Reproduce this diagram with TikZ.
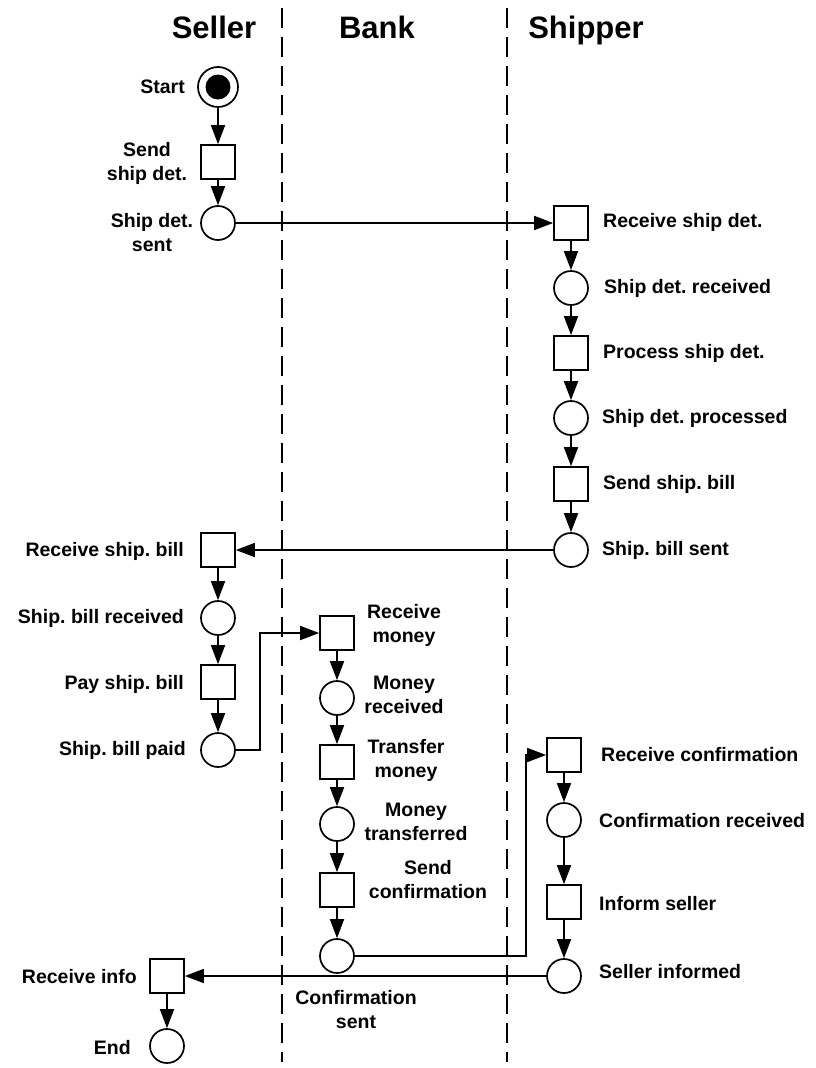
\documentclass[tikz,border=0pt]{standalone}
\usepackage{fontspec}
\setmainfont{Liberation Sans}
\usetikzlibrary{arrows.meta}
\frenchspacing
\begin{document}
\begin{tikzpicture}[x=1pt,y=-1pt,
  place/.style={circle,draw,line width=1.7pt,minimum size=34pt,inner sep=0pt},
  trans/.style={rectangle,draw,line width=1.7pt,minimum size=34pt,inner sep=0pt},
  flow/.style={-{Triangle[length=19pt,width=14pt]},line width=1.7pt},
  lane/.style={line width=2.2pt,dash pattern=on 20pt off 9pt},
  lbl/.style={font=\bfseries\fontsize{19.5}{24}\selectfont\frenchspacing,align=center,inner sep=0pt},
  head/.style={font=\bfseries\fontsize{31}{36}\selectfont,inner sep=0pt,anchor=base}]
\fill[white] (0,0) rectangle (815,1068);
\useasboundingbox (0,0) rectangle (815,1068);

% lanes
\coordinate (l1t) at (282,8);
\coordinate (l1b) at (282,1062);
\coordinate (l2t) at (507,8);
\coordinate (l2b) at (507,1062);
\draw[lane] (l1t) -- (l1b);
\draw[lane] (l2t) -- (l2b);

% headers
\node[head] (hseller) at (214,38) {Seller};
\node[head] (hbank) at (377,38) {Bank};
\node[head] (hshipper) at (586,38) {Shipper};

% seller upper
\node[place,minimum size=40pt] (start) at (218,87) {};
\node[circle,fill=black,minimum size=25pt,inner sep=0pt] (startdot) at (start) {};
\node[trans] (sendsd) at (218,162) {};
\node[place] (sdsent) at (218,223) {};

% shipper upper
\node[trans] (recvsd) at (571,223) {};
\node[place] (sdrecv) at (571,288) {};
\node[trans] (procsd) at (571,353) {};
\node[place] (sdproc) at (571,418) {};
\node[trans] (sendbill) at (571,484) {};
\node[place] (billsent) at (571,550) {};

% seller middle
\node[trans] (recvbill) at (218,550) {};
\node[place] (billrecv) at (218,618) {};
\node[trans] (paybill) at (218,682) {};
\node[place] (billpaid) at (218,750) {};

% bank
\node[trans] (recvmoney) at (337,633) {};
\node[place] (moneyrecv) at (337,698) {};
\node[trans] (transfer) at (337,762) {};
\node[place] (moneytrans) at (337,824) {};
\node[trans] (sendconf) at (337,890) {};
\node[place] (confsent) at (337,956) {};

% shipper lower
\node[trans] (recvconf) at (564,755) {};
\node[place] (confrecv) at (564,820) {};
\node[trans] (inform) at (564,902) {};
\node[place] (sellerinf) at (564,976) {};

% seller lower
\node[trans] (recvinfo) at (167,976) {};
\node[place] (endp) at (167,1046) {};

% labels
\node[lbl,anchor=east] (tstart) at (185,87) {Start};
\node[lbl] (tsendsd) at (147,163) {Send\\ship det.};
\node[lbl] (tsdsent) at (152,233) {Ship det.\\sent};

\node[lbl,anchor=west] (trecvsd) at (603,222) {Receive ship det.};
\node[lbl,anchor=west] (tsdrecv) at (604,288) {Ship det. received};
\node[lbl,anchor=west] (tprocsd) at (603,353) {Process ship det.};
\node[lbl,anchor=west] (tsdproc) at (602,418) {Ship det. processed};
\node[lbl,anchor=west] (tsendbill) at (603,484) {Send ship. bill};
\node[lbl,anchor=west] (tbillsent) at (602,550) {Ship. bill sent};

\node[lbl,anchor=east] (trecvbill) at (184,551) {Receive ship. bill};
\node[lbl,anchor=east] (tbillrecv) at (184,618) {Ship. bill received};
\node[lbl,anchor=east] (tpaybill) at (184,684) {Pay ship. bill};
\node[lbl,anchor=east] (tbillpaid) at (186,750) {Ship. bill paid};

\node[lbl] (trecvmoney) at (404,625) {Receive\\money};
\node[lbl] (tmoneyrecv) at (404,695) {Money\\received};
\node[lbl] (ttransfer) at (406,760) {Transfer\\money};
\node[lbl] (tmoneytrans) at (416,822) {Money\\transferred};
\node[lbl] (tsendconf) at (428,880) {Send\\confirmation};
\node[lbl] (tconfsent) at (356,1010) {Confirmation\\sent};

\node[lbl,anchor=west] (trecvconf) at (601,755) {Receive confirmation};
\node[lbl,anchor=west] (tconfrecv) at (599,821) {Confirmation received};
\node[lbl,anchor=west] (tinform) at (599,904) {Inform seller};
\node[lbl,anchor=west] (tsellerinf) at (599,972) {Seller informed};

\node[lbl,anchor=east] (trecvinfo) at (137,977) {Receive info};
\node[lbl,anchor=east] (tend) at (131,1048) {End};

% connectors
\draw[flow] (start) -- (sendsd);
\draw[flow] (sendsd) -- (sdsent);
\draw[flow] (sdsent) -- (recvsd);
\draw[flow] (recvsd) -- (sdrecv);
\draw[flow] (sdrecv) -- (procsd);
\draw[flow] (procsd) -- (sdproc);
\draw[flow] (sdproc) -- (sendbill);
\draw[flow] (sendbill) -- (billsent);
\draw[flow] (billsent) -- (recvbill);
\draw[flow] (recvbill) -- (billrecv);
\draw[flow] (billrecv) -- (paybill);
\draw[flow] (paybill) -- (billpaid);
\coordinate (c1) at (260,0);
\draw[flow] (billpaid) -- (billpaid -| c1) |- (recvmoney);
\draw[flow] (recvmoney) -- (moneyrecv);
\draw[flow] (moneyrecv) -- (transfer);
\draw[flow] (transfer) -- (moneytrans);
\draw[flow] (moneytrans) -- (sendconf);
\draw[flow] (sendconf) -- (confsent);
\coordinate (c2) at (526,0);
\draw[flow] (confsent) -- (confsent -| c2) |- (recvconf);
\draw[flow] (recvconf) -- (confrecv);
\draw[flow] (confrecv) -- (inform);
\draw[flow] (inform) -- (sellerinf);
\draw[flow] (sellerinf) -- (recvinfo);
\draw[flow] (recvinfo) -- (endp);
\end{tikzpicture}
\end{document}
